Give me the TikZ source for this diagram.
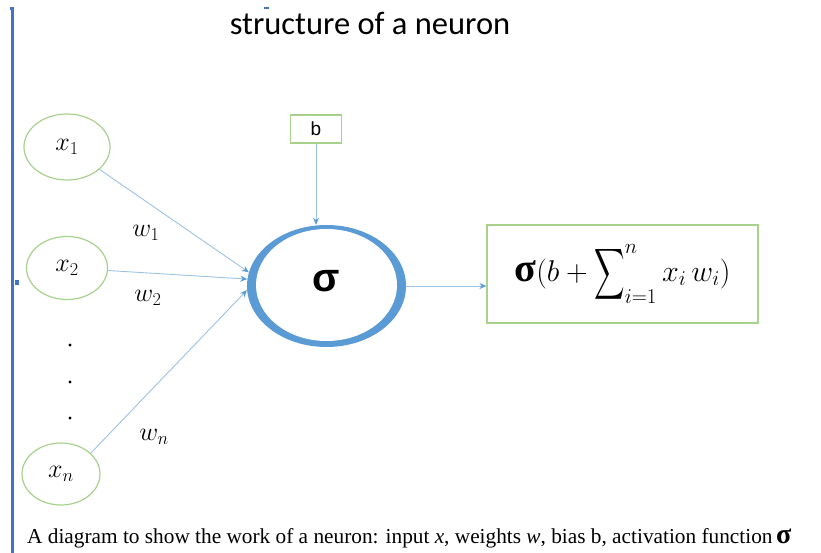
\RequirePackage{fix-cm}
\documentclass[tikz,border=0pt]{standalone}
\usepackage{fontspec}
\usepackage{amsmath}
\usepackage{graphicx}
\setmainfont{Liberation Serif}
\newfontfamily\titlefont{Carlito}
\newfontfamily\sigfont{Liberation Sans}
\newcommand{\mybigsum}{\mathop{\vcenter{\hbox{\raisebox{3pt}{\scalebox{0.85}[1.43]{$\displaystyle\sum$}}}}}\nolimits}
\usetikzlibrary{arrows.meta,shapes.geometric}
\definecolor{lnblue}{HTML}{9DC3E6}
\definecolor{tipblue}{HTML}{5B9BD5}
\definecolor{ringblue}{HTML}{5B9BD5}
\definecolor{grn}{HTML}{A9D18E}
\definecolor{barblue}{HTML}{4472C4}
\begin{document}
\begin{tikzpicture}[x=1pt,y=-1pt,
  inp/.style={draw=grn, line width=1.2pt, ellipse, inner sep=0pt},
  wire/.style={draw=lnblue, line width=0.9pt, -{Stealth[length=7pt,width=6pt,color=tipblue]}},
  mfont/.style={font=\fontsize{26}{30}\selectfont},
  greenbox/.style={draw=grn, line width=1.2pt, inner sep=0pt},
  dotnode/.style={circle, fill=black, inner sep=0pt, minimum size=3.2pt}]
\useasboundingbox (0,0) rectangle (821,553);
\fill[white] (0,0) rectangle (821,553);
% page marks
\fill[barblue] (11,8) rectangle (13.5,553);
\fill[barblue] (10,7) rectangle (14,10);
\fill[barblue] (264,7) rectangle (269,9);
\fill[barblue] (15,280) rectangle (19,285);
% title
\node (title) at (370,23) {\titlefont\fontsize{32.5}{34}\selectfont structure of a neuron};
% inputs
\node[inp, mfont, minimum width=86pt, minimum height=66pt] (x1) at (67,147) {$x_1$};
\node[inp, mfont, minimum width=81pt, minimum height=63pt] (x2) at (67,268) {$x_2$};
\node[inp, mfont, minimum width=78pt, minimum height=62pt] (xn) at (61,474) {$x_n$};
\node[dotnode] (d1) at (70,345) {};
\node[dotnode] (d2) at (70,382) {};
\node[dotnode] (d3) at (70,418) {};
% bias
\node[greenbox, minimum width=51pt, minimum height=28pt] (b) at (316,129) {\sigfont\fontsize{19}{21}\selectfont b};
% neuron
\node[ellipse, fill=ringblue, inner sep=0pt, minimum width=159pt, minimum height=122pt] (sig) at (326.5,286) {};
\fill[white] (326.5,285) ellipse [x radius=70.5, y radius=56];
\node (sigma) at (326,281) {\sigfont\bfseries\fontsize{40}{40}\selectfont σ};
% output
\node[greenbox, minimum width=271pt, minimum height=98pt] (out) at (622.5,274) {\fontsize{30}{34}\selectfont $\text{\bfseries\fontsize{40}{40}\selectfont σ}(b+\mybigsum_{i=1}^{n} x_i\, w_i)$};
% weights
\node[mfont] (w1) at (146,233) {$w_1$};
\node[mfont] (w2) at (148,298) {$w_2$};
\node[mfont] (wn) at (154,437) {$w_n$};
% connectors
\draw[wire] (x1) -- (sig.170);
\draw[wire] (x2) -- (sig.175);
\draw[wire] (xn.35) -- (sig.183);
\draw[wire] (b.south) -- (b.south |- sig.north);
\draw[wire] (sig.east) -- (out.west |- sig.east);
% caption
\node[anchor=base west, inner sep=0pt] (cap) at (27,543) {\fontsize{21.3}{24}\selectfont A diagram to show the work of a neuron: input \textit{x}, weights \textit{w}, bias b, activation function\,\textbf{\fontsize{28}{28}\selectfont σ}};
\end{tikzpicture}
\end{document}
